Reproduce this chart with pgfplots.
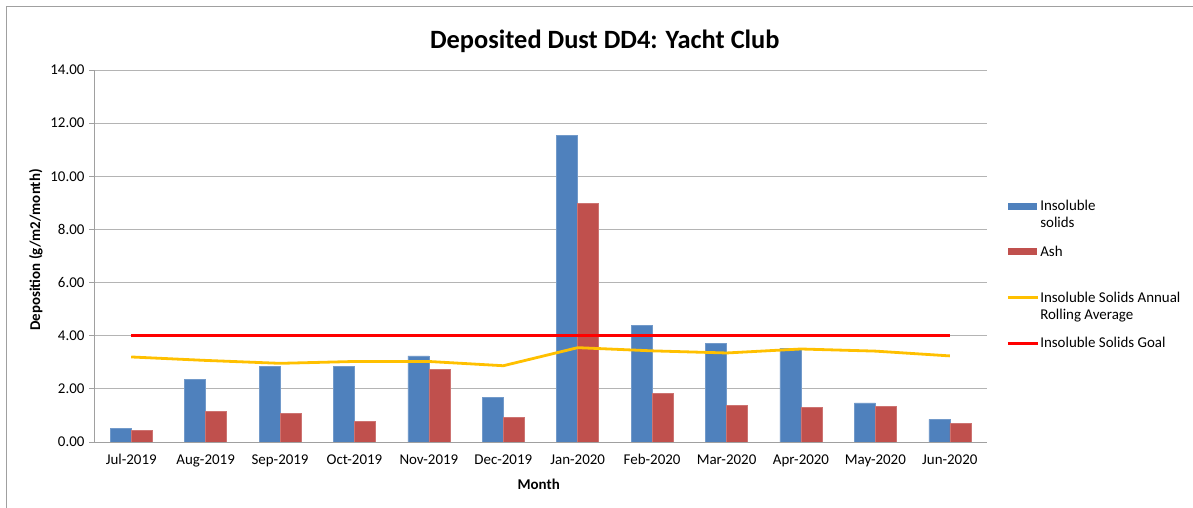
\documentclass[border=0pt]{standalone}
\usepackage{fontspec}
\setmainfont{Carlito}
\usepackage{pgfplots}
\pgfplotsset{compat=1.18}
\definecolor{cblue}{RGB}{79,129,189}
\definecolor{cred}{RGB}{192,80,77}
\definecolor{cyellow}{RGB}{255,192,0}
\definecolor{cgoal}{RGB}{255,0,0}
\definecolor{cgrid}{RGB}{180,180,180}
\definecolor{caxis}{RGB}{160,160,160}
\begin{document}
\begin{tikzpicture}[x=1bp,y=1bp]
\useasboundingbox (0,0) rectangle (1193,508);
\draw[caxis, line width=1.2bp] (6.5,0) -- (6.5,501.5) -- (1193,501.5);
\begin{axis}[
  at={(94bp,66bp)}, anchor=south west,
  scale only axis, width=893bp, height=372bp,
  xmin=-0.5, xmax=11.5, ymin=0, ymax=14,
  axis x line=bottom, axis y line=left,
  axis line style={-, caxis, line width=0.8bp},
  xtick={0,...,11},
  xticklabels={Jul-2019,Aug-2019,Sep-2019,Oct-2019,Nov-2019,Dec-2019,Jan-2020,Feb-2020,Mar-2020,Apr-2020,May-2020,Jun-2020},
  x tick style={draw=none},
  extra x ticks={-0.5,0.5,...,11.5},
  extra x tick labels={},
  extra x tick style={grid=none, tick align=outside, major tick length=5bp, tick style={caxis, line width=0.8bp, draw=caxis}},
  ytick={0,2,...,14},
  y tick style={caxis, line width=0.8bp},
  tick align=outside, major tick length=5bp,
  ymajorgrids, grid style={cgrid, line width=0.9bp},
  yticklabel style={/pgf/number format/fixed, /pgf/number format/fixed zerofill, /pgf/number format/precision=2, xshift=-1bp},
  /pgf/number format/assume math mode=true,
  tick label style={font=\fontsize{15}{18}\selectfont, text=black},
  xticklabel style={yshift=-4bp},
  title={\textbf{Deposited Dust DD4: Yacht Club}},
  title style={at={(0.572,1.062)}, anchor=center, font=\fontsize{26.5}{31}\selectfont},
  xlabel={\textbf{Month}},
  xlabel style={at={(axis description cs:0.498,-0.113)}, anchor=center, font=\fontsize{15}{18}\selectfont},
  ylabel={\textbf{Deposition (g/m2/month)}},
  ylabel style={at={(axis description cs:-0.065,0.516)}, anchor=center, font=\fontsize{15}{18}\selectfont},
  ybar=0pt, bar width=21bp,
  legend cell align=left,
  legend style={at={(1.018,0.659)}, anchor=north west, draw=none, fill=none,
    row sep=14.5bp, column sep=0bp,
    nodes={inner sep=1bp, align=left, font=\fontsize{15}{17.5}\selectfont}},
]
\addplot[fill=cblue, draw=cblue!80!white, line width=0.5bp,
  legend image code/.code={\fill[cblue] (0bp,5.75bp) rectangle (28bp,11.75bp);}]
  coordinates {(0,0.51) (1,2.36) (2,2.84) (3,2.84) (4,3.24) (5,1.68) (6,11.55) (7,4.39) (8,3.70) (9,3.53) (10,1.47) (11,0.85)};
\addlegendentry{Insoluble\\solids}
\addplot[fill=cred, draw=cred!80!white, line width=0.5bp,
  legend image code/.code={\fill[cred] (0bp,5.75bp) rectangle (28bp,11.75bp);}]
  coordinates {(0,0.44) (1,1.14) (2,1.07) (3,0.79) (4,2.73) (5,0.93) (6,8.98) (7,1.83) (8,1.39) (9,1.31) (10,1.34) (11,0.69)};
\addlegendentry{Ash\\\mbox{}}
\addplot[sharp plot, cyellow, line width=2.8bp, mark=none,
  legend image code/.code={\draw[cyellow, line width=2.8bp] (0bp,8.75bp) -- (30bp,8.75bp);}]
  coordinates {(0,3.20) (1,3.07) (2,2.96) (3,3.03) (4,3.03) (5,2.87) (6,3.55) (7,3.43) (8,3.35) (9,3.50) (10,3.42) (11,3.24)};
\addlegendentry{Insoluble Solids Annual\\Rolling Average}
\addplot[sharp plot, cgoal, line width=3bp, mark=none,
  legend image code/.code={\draw[cgoal, line width=3bp] (0bp,0bp) -- (30bp,0bp);}]
  coordinates {(0,4) (1,4) (2,4) (3,4) (4,4) (5,4) (6,4) (7,4) (8,4) (9,4) (10,4) (11,4)};
\addlegendentry{Insoluble Solids Goal}
\end{axis}
\end{tikzpicture}
\end{document}
